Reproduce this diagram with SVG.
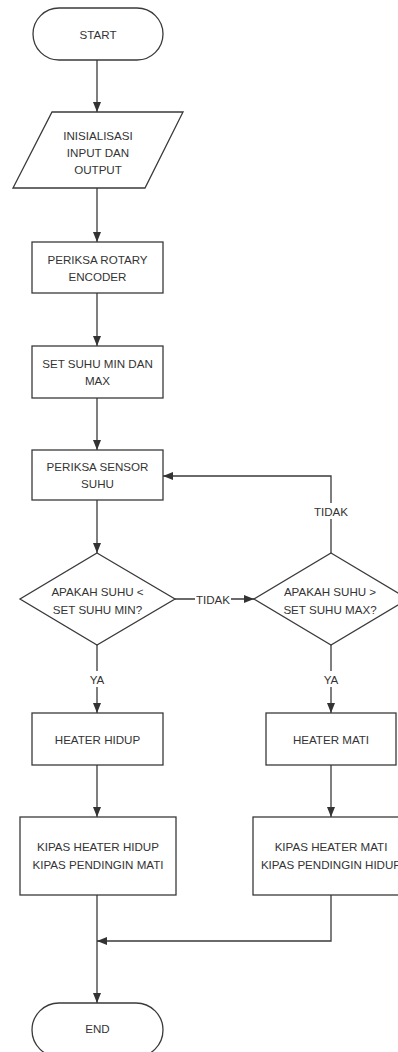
<svg xmlns="http://www.w3.org/2000/svg" width="398" height="1052" viewBox="0 0 398 1052">
<defs>
<style>
.s{fill:#fff;stroke:#3a3a3a;stroke-width:1.3}
.c{fill:none;stroke:#3a3a3a;stroke-width:1.3}
.t{font-family:"Liberation Sans",Arial,sans-serif;font-size:11.6px;fill:#333;text-anchor:middle;dominant-baseline:central}
.bg{fill:#fff}
</style>
<marker id="ah" markerWidth="10" markerHeight="10" viewBox="0 0 10 10" refX="10" refY="5" orient="auto" markerUnits="userSpaceOnUse">
<path d="M0,1 L10,5 L0,9 Z" fill="#333"/>
</marker>
</defs>
<rect width="398" height="1052" fill="#fff"/>
<g id="connectors">
<path class="c" d="M97,60 V112" marker-end="url(#ah)"/>
<path class="c" d="M97,188 V242" marker-end="url(#ah)"/>
<path class="c" d="M97,293 V346" marker-end="url(#ah)"/>
<path class="c" d="M97,398 V450" marker-end="url(#ah)"/>
<path class="c" d="M97,500 V553" marker-end="url(#ah)"/>
<path class="c" d="M97,645 V713" marker-end="url(#ah)"/>
<path class="c" d="M175,599 H254" marker-end="url(#ah)"/>
<path class="c" d="M331,553 V476 H163" marker-end="url(#ah)"/>
<path class="c" d="M331,645 V713" marker-end="url(#ah)"/>
<path class="c" d="M97,765 V817" marker-end="url(#ah)"/>
<path class="c" d="M331,765 V817" marker-end="url(#ah)"/>
<path class="c" d="M97,895 V1003" marker-end="url(#ah)"/>
<path class="c" d="M331,895 V941 H97" marker-end="url(#ah)"/>
<rect class="bg" x="85" y="671" width="24" height="16"/>
<text class="t" x="97" y="679">YA</text>
<rect class="bg" x="319" y="671" width="24" height="16"/>
<text class="t" x="331" y="679">YA</text>
<rect class="bg" x="195" y="591" width="36" height="16"/>
<text class="t" x="213" y="599">TIDAK</text>
<rect class="bg" x="312" y="503" width="38" height="16"/>
<text class="t" x="331" y="511">TIDAK</text>
</g>
<g id="start">
<rect class="s" x="33" y="8" width="130" height="52" rx="26" ry="26"/>
<text class="t" x="98" y="34">START</text>
</g>
<g id="init">
<polygon class="s" points="52,112 183,112 145,188 13,188"/>
<text class="t" x="98" y="135">INISIALISASI</text>
<text class="t" x="98" y="152">INPUT DAN</text>
<text class="t" x="98" y="169">OUTPUT</text>
</g>
<g id="rotary">
<rect class="s" x="32" y="242" width="131" height="51"/>
<text class="t" x="97.5" y="259">PERIKSA ROTARY</text>
<text class="t" x="97.5" y="276">ENCODER</text>
</g>
<g id="setsuhu">
<rect class="s" x="32" y="346" width="131" height="52"/>
<text class="t" x="97.5" y="363">SET SUHU MIN DAN</text>
<text class="t" x="97.5" y="380">MAX</text>
</g>
<g id="sensor">
<rect class="s" x="32" y="450" width="131" height="50"/>
<text class="t" x="97.5" y="466">PERIKSA SENSOR</text>
<text class="t" x="97.5" y="483">SUHU</text>
</g>
<g id="dec1">
<polygon class="s" points="97,553 175,599 97,645 20,599"/>
<text class="t" x="97.5" y="591">APAKAH SUHU &lt;</text>
<text class="t" x="97.5" y="609">SET SUHU MIN?</text>
</g>
<g id="dec2">
<polygon class="s" points="331,553 408,599 331,645 254,599"/>
<text class="t" x="330" y="591">APAKAH SUHU &gt;</text>
<text class="t" x="330" y="609">SET SUHU MAX?</text>
</g>
<g id="heaterhidup">
<rect class="s" x="32" y="713" width="131" height="52"/>
<text class="t" x="97.5" y="739">HEATER HIDUP</text>
</g>
<g id="heatermati">
<rect class="s" x="266" y="713" width="130" height="52"/>
<text class="t" x="331" y="739">HEATER MATI</text>
</g>
<g id="kipas1">
<rect class="s" x="20" y="817" width="156" height="78"/>
<text class="t" x="98" y="846">KIPAS HEATER HIDUP</text>
<text class="t" x="98" y="864">KIPAS PENDINGIN MATI</text>
</g>
<g id="kipas2">
<rect class="s" x="253" y="817" width="156" height="78"/>
<text class="t" x="331" y="846">KIPAS HEATER MATI</text>
<text class="t" x="331" y="864">KIPAS PENDINGIN HIDUP</text>
</g>
<g id="end">
<rect class="s" x="32" y="1003" width="131" height="54" rx="27" ry="27"/>
<text class="t" x="97.5" y="1028">END</text>
</g>
</svg>
